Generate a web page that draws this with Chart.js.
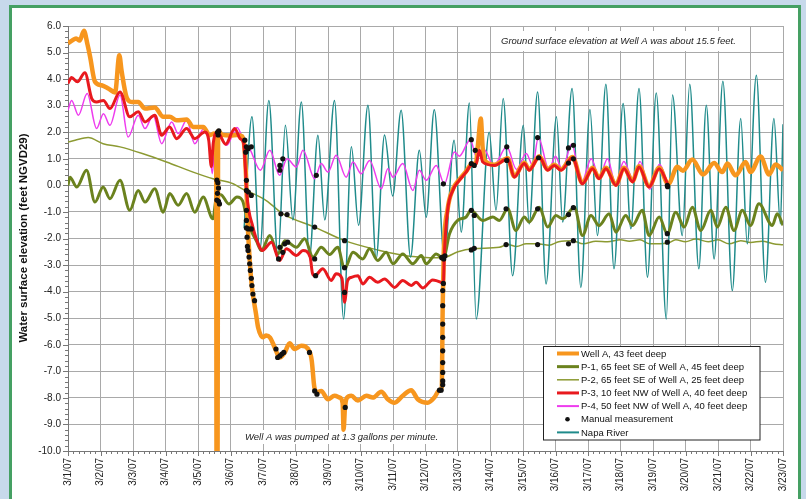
<!DOCTYPE html>
<html>
<head>
<meta charset="utf-8">
<script src="https://cdn.jsdelivr.net/npm/chart.js@4.4.1/dist/chart.umd.min.js"></script>
<style>
    html, body { margin: 0; padding: 0; }
    body { width: 806px; height: 499px; background: #c7d9eb; position: relative; overflow: hidden; }
    #panel { position: absolute; left: 9px; top: 5px; width: 786px; height: 520px; border: 3px solid #45a063; background: #fff; }
    #chart { position: absolute; left: 0; top: 0; }
</style>
</head>
<body>
<div id="panel"></div>
<canvas id="chart" width="806" height="499"></canvas>
<script>
// x = days since 3/1/07, y = feet NGVD29
const dateLabels = ['3/1/07', '3/2/07', '3/3/07', '3/4/07', '3/5/07', '3/6/07', '3/7/07', '3/8/07',
    '3/9/07', '3/10/07', '3/11/07', '3/12/07', '3/13/07', '3/14/07', '3/15/07', '3/16/07',
    '3/17/07', '3/18/07', '3/19/07', '3/20/07', '3/21/07', '3/22/07', '3/23/07'];

const wellA = [
    [0, 5.35], [0.12, 5.45], [0.25, 5.53], [0.36, 5.45], [0.49, 5.82], [0.6, 5.3], [0.68, 4.84], [0.83, 3.9],
    [1.03, 3.77], [1.24, 3.65], [1.45, 3.5], [1.58, 4.9], [1.65, 4.3], [1.8, 3.33], [1.97, 3.14], [2.16, 3.14],
    [2.37, 2.89], [2.67, 2.93], [2.93, 2.58], [3.13, 2.58], [3.34, 2.45], [3.65, 2.48], [3.85, 2.2], [4.16, 2.2],
    [4.36, 1.89], [4.5, 1.95], [4.56, 1.9], [4.57, -10.5], [4.6, -10.5], [4.62, 2.05], [4.75, 1.9], [5.0, 1.88],
    [5.2, 1.9], [5.36, 1.85], [5.43, 1.4], [5.48, 0.3], [5.52, -1.2], [5.58, -2.6], [5.64, -3.6], [5.7, -4.2],
    [5.78, -4.8], [5.85, -5.35], [6.0, -5.72], [6.1, -5.65], [6.21, -5.72], [6.36, -6.1], [6.51, -6.48],
    [6.67, -6.29], [6.82, -5.94], [6.97, -6.16], [7.18, -6.04], [7.43, -6.25], [7.5, -6.6], [7.58, -7.6],
    [7.66, -7.78], [7.79, -7.74], [8.0, -8.05], [8.2, -7.92], [8.36, -7.99], [8.45, -8.2], [8.48, -9.2],
    [8.52, -8.4], [8.58, -8.0], [8.72, -7.92], [8.92, -8.1], [9.18, -7.92], [9.38, -7.99], [9.64, -7.77],
    [9.84, -8.05], [10.05, -8.18], [10.3, -7.92], [10.56, -7.71], [10.76, -8.05], [11.07, -8.18], [11.27, -7.99],
    [11.43, -7.71], [11.5, -7.6], [11.53, -4.5], [11.56, -2.6], [11.68, -0.9], [11.84, -0.15], [12.04, 0.22],
    [12.25, 0.53], [12.4, 0.78], [12.55, 0.85], [12.62, 1.6], [12.7, 2.52], [12.76, 1.4], [12.82, 0.94],
    [13.12, 0.78], [13.53, 1.02], [13.73, 0.34], [14.04, 0.85], [14.19, 0.6], [14.5, 1.1], [14.76, 0.6],
    [14.96, 0.78], [15.17, 0.6], [15.52, 1.07], [15.83, 0.09], [16.14, 0.66], [16.34, 0.28], [16.55, 0.66],
    [16.86, 0.03], [17.11, 0.66], [17.37, 0.16], [17.57, 0.72], [17.88, -0.03], [18.19, 0.66], [18.47, 0.05],
    [18.75, 0.7], [18.92, 0.55], [19.21, 0.97], [19.54, 0.41], [19.88, 0.84], [20.13, 0.5], [20.29, 0.82],
    [20.54, 0.38], [20.85, 0.88], [21.0, 0.5], [21.31, 1.09], [21.57, 0.41], [21.77, 0.79], [22.0, 0.57]
];

const p1 = [
    [0, 0.0], [0.06, 0.31], [0.27, -0.06], [0.57, 0.57], [0.83, -0.63], [1.08, -0.06], [1.29, -0.5], [1.6, 0.19],
    [1.9, -0.94], [2.16, -0.19], [2.37, -0.63], [2.67, -0.13], [2.93, -1.01], [3.13, -0.31], [3.39, -0.75],
    [3.65, -0.31], [3.9, -1.01], [4.16, -0.44], [4.46, -1.26], [4.57, -0.4], [4.7, -0.35], [4.95, -0.7],
    [5.2, -0.44], [5.38, -0.6], [5.44, -0.9], [5.6, -1.6], [5.8, -2.1], [5.95, -2.45], [6.21, -1.89],
    [6.46, -2.58], [6.67, -2.08], [7.03, -2.33], [7.28, -2.01], [7.54, -2.7], [7.79, -2.33], [8.05, -2.6],
    [8.3, -2.33], [8.51, -3.14], [8.77, -2.52], [9.07, -2.77], [9.28, -2.39], [9.53, -2.83], [9.79, -2.52],
    [10.0, -2.95], [10.3, -2.58], [10.61, -2.95], [10.87, -2.64], [11.02, -2.95], [11.33, -2.58], [11.55, -2.75],
    [11.74, -1.82], [11.99, -1.32], [12.25, -1.19], [12.4, -0.94], [12.76, -1.32], [13.07, -1.19], [13.27, -1.32],
    [13.53, -0.88], [13.78, -1.7], [14.04, -1.19], [14.19, -1.38], [14.5, -0.82], [14.76, -1.57], [15.01, -1.13],
    [15.22, -1.26], [15.58, -0.82], [15.83, -1.89], [16.09, -1.13], [16.34, -1.51], [16.65, -1.07], [16.86, -1.76],
    [17.16, -1.13], [17.37, -1.51], [17.67, -0.94], [17.88, -1.89], [18.19, -1.19], [18.44, -1.82], [18.7, -1.01],
    [18.96, -1.57], [19.21, -0.82], [19.47, -1.7], [19.78, -0.94], [19.98, -1.57], [20.24, -0.82], [20.49, -1.7],
    [20.75, -0.94], [21.0, -1.51], [21.26, -0.69], [21.67, -1.51], [21.82, -1.07], [22.0, -1.5]
];

const p2 = [
    [0, 1.63], [0.22, 1.7], [0.62, 1.8], [1.08, 1.57], [1.6, 1.45], [2.31, 1.19], [3.03, 0.88], [3.85, 0.5],
    [4.46, 0.25], [5.08, 0.06], [5.39, -0.15], [5.59, -0.25], [6.1, -0.57], [6.61, -1.07], [7.59, -1.57],
    [8.51, -2.08], [9.59, -2.45], [10.1, -2.58], [10.61, -2.68], [11.12, -2.72], [11.53, -2.72], [12.0, -2.5],
    [12.45, -2.39], [13.27, -2.33], [13.53, -2.23], [13.8, -2.3], [14.1, -2.2], [14.45, -2.2], [14.8, -2.25],
    [15.1, -2.12], [15.52, -2.08], [15.85, -2.2], [16.24, -2.1], [16.6, -2.12], [17.0, -2.05], [17.27, -2.1],
    [17.6, -2.05], [17.9, -2.2], [18.44, -2.18], [18.7, -2.05], [19.0, -2.12], [19.31, -2.02], [19.7, -2.12],
    [20.0, -2.05], [20.34, -2.2], [20.7, -2.08], [21.0, -2.15], [21.36, -2.1], [21.7, -2.2], [22.0, -2.24]
];

const p3 = [
    [0, 3.84], [0.11, 4.06], [0.29, 3.9], [0.52, 4.24], [0.73, 3.27], [0.88, 3.14], [1.09, 3.2], [1.29, 2.89],
    [1.6, 3.52], [1.9, 2.58], [2.16, 2.77], [2.37, 2.39], [2.67, 2.64], [2.88, 1.89], [3.13, 2.2], [3.34, 1.76],
    [3.65, 2.14], [3.9, 1.76], [4.21, 2.01], [4.33, 1.7], [4.41, 0.7], [4.47, 1.6], [4.6, 2.0], [4.85, 1.55],
    [5.13, 2.14], [5.3, 1.75], [5.4, 1.6], [5.46, 0.6], [5.5, -0.3], [5.69, -1.57], [5.9, -2.33], [5.98, -2.45],
    [6.26, -2.14], [6.51, -2.83], [6.72, -2.39], [7.03, -2.64], [7.23, -2.45], [7.45, -2.7], [7.52, -3.3],
    [7.59, -3.4], [7.84, -3.14], [8.1, -3.58], [8.25, -3.33], [8.43, -3.5], [8.51, -4.4], [8.6, -3.6],
    [8.72, -3.46], [8.92, -3.4], [9.07, -3.71], [9.28, -3.46], [9.53, -3.65], [9.74, -3.52], [10.05, -3.84],
    [10.3, -3.58], [10.56, -3.77], [10.71, -3.65], [10.92, -3.86], [11.22, -3.56], [11.48, -3.65], [11.55, -3.7],
    [11.58, -2.58], [11.68, -0.94], [11.84, -0.19], [12.04, 0.19], [12.25, 0.5], [12.4, 0.75], [12.56, 0.82],
    [12.66, 1.32], [12.76, 0.88], [13.12, 0.75], [13.53, 1.0], [13.73, 0.31], [14.04, 0.82], [14.19, 0.57],
    [14.5, 1.07], [14.76, 0.57], [14.96, 0.75], [15.17, 0.57], [15.52, 1.04], [15.83, 0.06], [16.14, 0.63],
    [16.34, 0.25], [16.55, 0.63], [16.86, 0.0], [17.11, 0.63], [17.37, 0.13], [17.57, 0.69], [17.88, -0.06],
    [18.19, 0.63], [18.47, 0.0]
];

const p4 = [
    [0, 2.83], [0.11, 3.2], [0.32, 2.64], [0.59, 3.46], [0.88, 2.14], [1.09, 2.7], [1.29, 2.26], [1.6, 3.4],
    [1.85, 1.82], [2.16, 2.64], [2.37, 2.14], [2.62, 2.64], [2.88, 1.57], [3.19, 2.39], [3.39, 1.95], [3.65, 2.45],
    [3.9, 1.57], [4.18, 2.14], [4.33, 1.8], [4.44, 0.44], [4.52, 1.5], [4.62, 1.95], [4.88, 1.51], [5.2, 2.18],
    [5.44, 1.57], [5.6, 1.35], [5.92, 0.57], [6.21, 1.32], [6.51, 0.38], [6.74, 1.0], [7.03, 0.69], [7.23, 1.32],
    [7.59, 0.25], [7.79, 0.82], [8.0, 0.5], [8.25, 1.13], [8.56, 0.31], [8.77, 0.88], [9.02, 0.44], [9.28, 0.94],
    [9.64, -0.13], [9.84, 0.63], [10.0, 0.31], [10.3, 0.82], [10.61, -0.19], [10.81, 0.57], [11.02, 0.19],
    [11.33, 0.75], [11.58, 0.06], [11.89, 1.26], [12.04, 1.1], [12.38, 1.72], [12.56, 1.1], [12.8, 1.35],
    [13.1, 0.75], [13.5, 1.45], [13.8, 0.6], [14.1, 1.2], [14.3, 0.75], [14.47, 1.8], [14.8, 0.6], [15.0, 1.1],
    [15.2, 0.6], [15.5, 1.55], [15.8, 0.1], [16.1, 1.0], [16.35, 0.3], [16.6, 1.0], [16.85, 0.05], [17.1, 0.9],
    [17.4, 0.2], [17.6, 0.9], [17.9, -0.15], [18.2, 0.8], [18.45, 0.05]
];

const napaRiver = [
    [5.42, -1.6], [5.66, 2.58], [5.9, -2.45], [6.18, 3.2], [6.46, -2.7], [6.69, 2.26], [6.92, -1.3], [7.18, 3.14],
    [7.43, -2.7], [7.69, 1.89], [7.9, -1.3], [8.2, 3.2], [8.48, -5.03], [8.72, 1.45], [8.94, -1.5], [9.23, 3.02],
    [9.48, -2.77], [9.74, 1.9], [9.99, -0.4], [10.25, 2.83], [10.54, -2.7], [10.81, 1.32], [11.02, -1.2],
    [11.27, 2.85], [11.58, -2.7], [11.88, 1.7], [12.1, -1.76], [12.35, 3.1], [12.56, -5.03], [12.96, 2.0],
    [13.17, -0.94], [13.39, 3.27], [13.68, -3.4], [14.01, 2.26], [14.19, -1.45], [14.45, 3.52], [14.71, -3.71],
    [15.03, 2.58], [15.22, -1.38], [15.51, 3.65], [15.78, -3.84], [16.06, 2.86], [16.29, -1.89], [16.55, 3.81],
    [16.8, -3.14], [17.08, 3.08], [17.32, -1.63], [17.57, 3.65], [17.83, -3.46], [18.1, 3.48], [18.41, -5.03],
    [18.6, 3.4], [18.9, -1.89], [19.13, 3.81], [19.41, -3.14], [19.64, 3.02], [19.88, -2.77], [20.15, 3.92],
    [20.44, -3.96], [20.7, 2.52], [20.9, -2.2], [21.18, 4.15], [21.46, -3.65], [21.72, 2.52], [21.92, -1.45],
    [22.0, 2.3]
];

const manual = [
    // 3/5 test
    [4.6, 2.0], [4.64, 2.05], [4.62, 1.9], [4.58, 0.2], [4.61, 0.1], [4.63, -0.1], [4.6, -0.3], [4.58, -0.55],
    [4.63, -0.6], [4.66, -0.7],
    // start of pumping
    [5.44, 1.7], [5.49, 1.45], [5.54, 1.38], [5.64, 1.45], [5.47, 1.25], [5.49, 0.19], [5.49, -0.19], [5.55, -0.25],
    [5.64, -0.38], [5.49, -0.94], [5.49, -1.32], [5.49, -1.6], [5.55, -1.64], [5.64, -1.64], [5.51, -1.95],
    [5.52, -2.3], [5.54, -2.45], [5.57, -2.7], [5.59, -2.95], [5.61, -3.2], [5.64, -3.5], [5.66, -3.77],
    [5.69, -4.09], [5.74, -4.34],
    [6.52, 0.75], [6.61, 1.0], [6.52, 0.57], [6.55, -1.07], [6.74, -1.1], [6.48, -2.77], [6.52, -2.33],
    [6.61, -2.52], [6.67, -2.2], [6.76, -2.14], [6.4, -6.16], [6.45, -6.48], [6.52, -6.42], [6.58, -6.35], [6.64, -6.29],
    [7.64, 0.38], [7.59, -1.57], [7.59, -2.77], [7.62, -3.4], [7.43, -6.29], [7.59, -7.74], [7.66, -7.86],
    [8.51, -2.08], [8.51, -3.1], [8.51, -4.03], [8.53, -8.36],
    // end of pumping
    [11.55, 0.06], [11.53, -2.7], [11.56, -2.77], [11.5, -2.72], [11.6, -2.65], [11.55, -3.69],
    [11.43, -7.71], [11.48, -7.71], [11.53, -7.51], [11.53, -7.36], [11.53, -7.04], [11.53, -6.67], [11.53, -6.23],
    [11.53, -5.72], [11.53, -5.22], [11.53, -4.53], [11.53, -3.96],
    [12.41, 1.72], [12.53, 1.32], [12.41, 0.82], [12.5, 0.75], [12.41, -0.94], [12.5, -1.13], [12.41, -2.43], [12.5, -2.37],
    [13.5, 1.45], [13.5, 0.94], [13.48, -0.88], [13.48, -2.23],
    [14.45, 1.8], [14.48, 1.04], [14.45, -0.88], [14.45, -2.23],
    [15.4, 1.41], [15.55, 1.51], [15.4, 0.84], [15.55, 1.0], [15.4, -1.1], [15.55, -0.84], [15.4, -2.2], [15.55, -2.08],
    [18.44, 0.0], [18.45, -0.05], [18.44, -1.82], [18.44, -2.14]
];

const seriesNames = ['Well A, 43 feet deep', 'P-1, 65 feet SE of Well A, 45 feet deep',
    'P-2, 65 feet SE of Well A, 25 feet deep', 'P-3, 10 feet NW of Well A, 40 feet deep',
    'P-4, 50 feet NW of Well A, 40 feet deep', 'Manual measurement', 'Napa River'];

const colors = {
    wellA: '#f7961e', p1: '#6b821e', p2: '#8c9a32', p3: '#e8191e', p4: '#ee3cee', napa: '#1f8b8b', manual: '#111111'
};

const xy = arr => arr.map(p => ({ x: p[0], y: p[1] }));

function lineSet(label, data, color, width) {
    return {
        label: label,
        data: xy(data),
        borderColor: color,
        borderWidth: width,
        pointRadius: 0,
        fill: false,
        cubicInterpolationMode: 'monotone',
        borderJoinStyle: 'round',
        clip: 0
    };
}

// legend, notes, minor ticks, axis title
const extras = {
    id: 'extras',
    beforeDatasetsDraw(chart) {
        const ctx = chart.ctx;
        ctx.save();
        ctx.fillStyle = '#fff';
        ctx.fillRect(495, 31, 254, 20);
        ctx.fillRect(241, 430, 198, 14);
        ctx.fillStyle = '#222';
        ctx.font = 'italic 9.5px Arial, "Liberation Sans"';
        ctx.textBaseline = 'middle';
        ctx.fillText('Ground surface elevation at Well A was about 15.5 feet.', 501, 41);
        ctx.fillText('Well A was pumped at 1.3 gallons per minute.', 245, 437);
        ctx.restore();
    },
    afterDraw(chart) {
        const ctx = chart.ctx, a = chart.chartArea, xs = chart.scales.x, ys = chart.scales.y;
        ctx.save();
        ctx.strokeStyle = '#777';
        ctx.lineWidth = 1;
        ctx.beginPath();
        for (let i = 0; i <= 22 * 6; i++) {
            const px = Math.round(xs.getPixelForValue(i / 6)) + 0.5;
            ctx.moveTo(px, a.bottom);
            ctx.lineTo(px, a.bottom + (i % 6 === 0 ? 5 : 3));
        }
        for (let i = 0; i <= 80; i++) {
            const py = Math.round(ys.getPixelForValue(-10 + i * 0.2)) + 0.5;
            ctx.moveTo(a.left, py);
            ctx.lineTo(a.left - (i % 5 === 0 ? 5 : 3), py);
        }
        ctx.stroke();

        // y title
        ctx.save();
        ctx.translate(24, 238);
        ctx.rotate(-Math.PI / 2);
        ctx.fillStyle = '#111';
        ctx.font = 'bold 11.5px Arial, "Liberation Sans"';
        ctx.textAlign = 'center';
        ctx.textBaseline = 'middle';
        ctx.fillText('Water surface elevation (feet NGVD29)', 0, 0);
        ctx.restore();

        // legend box
        ctx.fillStyle = '#fff';
        ctx.fillRect(543.5, 346.5, 216.5, 93.5);
        ctx.strokeStyle = '#222';
        ctx.strokeRect(543.5, 346.5, 216.5, 93.5);
        const swatches = [
            [colors.wellA, 4], [colors.p1, 3], [colors.p2, 1.5], [colors.p3, 3], [colors.p4, 2], [colors.manual, 0], [colors.napa, 2]
        ];
        ctx.font = '9.5px Arial, "Liberation Sans"';
        ctx.textBaseline = 'middle';
        seriesNames.forEach((name, i) => {
            const ry = 353.5 + i * 13.15;
            if (swatches[i][1] > 0) {
                ctx.strokeStyle = swatches[i][0];
                ctx.lineWidth = swatches[i][1];
                ctx.beginPath();
                ctx.moveTo(557, ry);
                ctx.lineTo(579, ry);
                ctx.stroke();
            } else {
                ctx.fillStyle = swatches[i][0];
                ctx.beginPath();
                ctx.arc(567.5, ry, 2.3, 0, Math.PI * 2);
                ctx.fill();
            }
            ctx.fillStyle = '#111';
            ctx.fillText(name, 581, ry + 0.5);
        });
        ctx.restore();
    }
};

const axisFont = { family: 'Arial, "Liberation Sans"', size: 10 };

new Chart(document.getElementById('chart').getContext('2d'), {
    type: 'line',
    data: {
        datasets: [
            {
                label: seriesNames[5],
                data: xy(manual),
                showLine: false,
                pointRadius: 2.6,
                pointBackgroundColor: colors.manual,
                pointBorderWidth: 0
            },
            lineSet(seriesNames[3], p3, colors.p3, 3),
            lineSet(seriesNames[0], wellA, colors.wellA, 4.5),
            lineSet(seriesNames[1], p1, colors.p1, 3),
            lineSet(seriesNames[4], p4, colors.p4, 1.5),
            lineSet(seriesNames[6], napaRiver, colors.napa, 1.5),
            lineSet(seriesNames[2], p2, colors.p2, 1.5)
        ]
    },
    options: {
        responsive: false,
        animation: false,
        events: [],
        layout: { padding: { left: 0, right: 23, top: 26, bottom: 0 } },
        plugins: { legend: { display: false }, tooltip: { enabled: false } },
        scales: {
            x: {
                type: 'linear',
                min: 0,
                max: 22,
                afterFit: s => { s.height = 48; },
                ticks: {
                    stepSize: 1,
                    autoSkip: false,
                    minRotation: 90,
                    maxRotation: 90,
                    padding: 7,
                    color: '#222',
                    font: axisFont,
                    callback: v => dateLabels[Math.round(v)]
                },
                grid: { color: '#a9a9a9', lineWidth: 1, drawTicks: false },
                border: { color: '#777' }
            },
            y: {
                min: -10,
                max: 6,
                afterFit: s => { s.width = 68; },
                ticks: {
                    stepSize: 1,
                    padding: 7,
                    color: '#222',
                    font: axisFont,
                    callback: v => v.toFixed(1)
                },
                grid: { color: '#a9a9a9', lineWidth: 1, drawTicks: false },
                border: { color: '#777' }
            }
        }
    },
    plugins: [extras]
});
</script>
</body>
</html>
